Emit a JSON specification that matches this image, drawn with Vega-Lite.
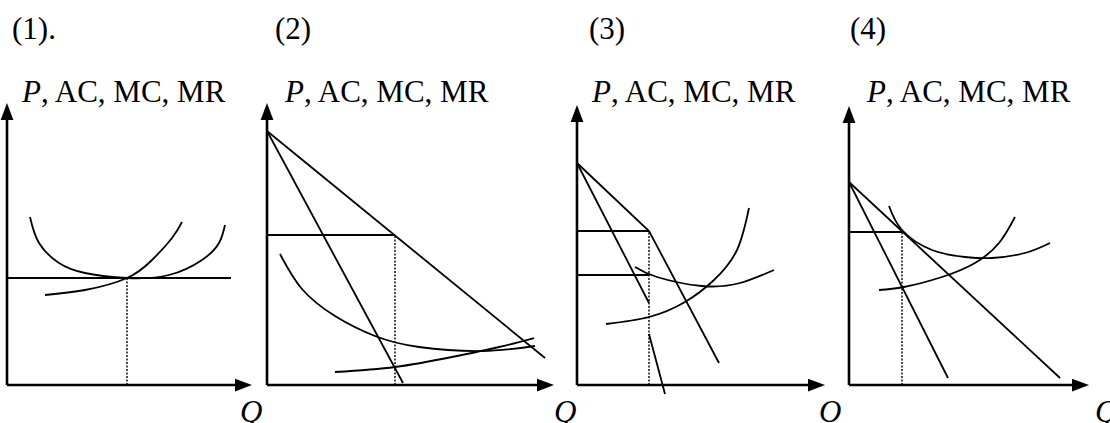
{
  "$schema": "https://vega.github.io/schema/vega-lite/v6.json",
  "background": "white",
  "padding": 0,
  "spacing": 0,
  "bounds": "flush",
  "config": {"view": {"stroke": null}, "text": {"font": "Liberation Serif, Times New Roman, serif", "fontSize": 31, "color": "black", "align": "left", "baseline": "alphabetic"}},
  "hconcat": [
    {
      "width": 260, "height": 423,
      "data": {"values": [
        {"kind": "axis", "series": "y", "q": 0, "p": 0}, {"kind": "axis", "series": "y", "q": 0, "p": 274},
        {"kind": "axis", "series": "x", "q": 0, "p": 0}, {"kind": "axis", "series": "x", "q": 237, "p": 0},
        {"kind": "arrowUp", "q": 0, "p": 273.5}, {"kind": "arrowRight", "q": 236.5, "p": 0},
        {"kind": "straight", "series": "P=MR", "q": 0, "p": 107}, {"kind": "straight", "series": "P=MR", "q": 224, "p": 107},
        {"kind": "dotted", "series": "Q*", "q": 120, "p": 0}, {"kind": "dotted", "series": "Q*", "q": 120, "p": 107},
        {"kind": "curve", "series": "AC", "q": 23, "p": 168}, {"kind": "curve", "series": "AC", "q": 32, "p": 142},
        {"kind": "curve", "series": "AC", "q": 52, "p": 122}, {"kind": "curve", "series": "AC", "q": 78, "p": 112},
        {"kind": "curve", "series": "AC", "q": 120, "p": 107}, {"kind": "curve", "series": "AC", "q": 162, "p": 110},
        {"kind": "curve", "series": "AC", "q": 195, "p": 125}, {"kind": "curve", "series": "AC", "q": 212, "p": 142},
        {"kind": "curve", "series": "AC", "q": 218, "p": 160},
        {"kind": "curve", "series": "MC", "q": 38, "p": 90}, {"kind": "curve", "series": "MC", "q": 78, "p": 95},
        {"kind": "curve", "series": "MC", "q": 120, "p": 107}, {"kind": "curve", "series": "MC", "q": 145, "p": 125},
        {"kind": "curve", "series": "MC", "q": 165, "p": 147}, {"kind": "curve", "series": "MC", "q": 175, "p": 163},
        {"kind": "title", "text": "(1).", "q": 5, "p": 346},
        {"kind": "labelItalic", "text": "P", "q": 15, "p": 283},
        {"kind": "labelRoman", "text": ", AC, MC, MR", "q": 34, "p": 283},
        {"kind": "axisName", "text": "Q", "q": 233, "p": -37}
      ]},
      "encoding": {
        "x": {"field": "q", "type": "quantitative", "scale": {"domain": [-5, 255], "nice": false, "zero": false}, "axis": null},
        "y": {"field": "p", "type": "quantitative", "scale": {"domain": [-38, 385], "nice": false, "zero": false}, "axis": null}
      },
      "layer": [
        {"transform": [{"filter": "datum.kind === 'straight'"}], "mark": {"type": "line", "color": "black", "strokeWidth": 1.8, "clip": false}, "encoding": {"detail": {"field": "series"}}},
        {"transform": [{"filter": "datum.kind === 'curve'"}], "mark": {"type": "line", "color": "black", "strokeWidth": 1.8, "interpolate": "natural", "clip": false}, "encoding": {"detail": {"field": "series"}}},
        {"transform": [{"filter": "datum.kind === 'dotted'"}], "mark": {"type": "line", "color": "black", "strokeWidth": 1.4, "strokeDash": [2, 1.5]}, "encoding": {"detail": {"field": "series"}}},
        {"transform": [{"filter": "datum.kind === 'axis'"}], "mark": {"type": "line", "color": "black", "strokeWidth": 2.6}, "encoding": {"detail": {"field": "series"}}},
        {"transform": [{"filter": "datum.kind === 'arrowUp'"}], "mark": {"type": "point", "shape": "M0,-1L0.75,1L-0.75,1Z", "filled": true, "color": "black", "opacity": 1, "size": 289}},
        {"transform": [{"filter": "datum.kind === 'arrowRight'"}], "mark": {"type": "point", "shape": "M1,0L-1,0.75L-1,-0.75Z", "filled": true, "color": "black", "opacity": 1, "size": 289}},
        {"transform": [{"filter": "datum.kind === 'title'"}], "mark": {"type": "text"}, "encoding": {"text": {"field": "text"}}},
        {"transform": [{"filter": "datum.kind === 'labelItalic'"}], "mark": {"type": "text", "fontStyle": "italic"}, "encoding": {"text": {"field": "text"}}},
        {"transform": [{"filter": "datum.kind === 'labelRoman'"}], "mark": {"type": "text"}, "encoding": {"text": {"field": "text"}}},
        {"transform": [{"filter": "datum.kind === 'axisName'"}], "mark": {"type": "text", "fontStyle": "italic"}, "encoding": {"text": {"field": "text"}}}
      ]
    },
    {
      "width": 310, "height": 423,
      "data": {"values": [
        {"kind": "axis", "series": "y", "q": 0, "p": 0}, {"kind": "axis", "series": "y", "q": 0, "p": 274},
        {"kind": "axis", "series": "x", "q": 0, "p": 0}, {"kind": "axis", "series": "x", "q": 279, "p": 0},
        {"kind": "arrowUp", "q": 0, "p": 273.5}, {"kind": "arrowRight", "q": 278.5, "p": 0},
        {"kind": "straight", "series": "D", "q": 0, "p": 254}, {"kind": "straight", "series": "D", "q": 278, "p": 27},
        {"kind": "straight", "series": "MR", "q": 0, "p": 254}, {"kind": "straight", "series": "MR", "q": 136, "p": 2},
        {"kind": "straight", "series": "P", "q": 0, "p": 150}, {"kind": "straight", "series": "P", "q": 128, "p": 150},
        {"kind": "dotted", "series": "Q*", "q": 128, "p": 0}, {"kind": "dotted", "series": "Q*", "q": 128, "p": 150},
        {"kind": "curve", "series": "AC", "q": 13, "p": 131}, {"kind": "curve", "series": "AC", "q": 35, "p": 96},
        {"kind": "curve", "series": "AC", "q": 68, "p": 69}, {"kind": "curve", "series": "AC", "q": 108, "p": 49},
        {"kind": "curve", "series": "AC", "q": 152, "p": 38}, {"kind": "curve", "series": "AC", "q": 215, "p": 34},
        {"kind": "curve", "series": "AC", "q": 268, "p": 39},
        {"kind": "curve", "series": "MC", "q": 68, "p": 13}, {"kind": "curve", "series": "MC", "q": 128, "p": 18},
        {"kind": "curve", "series": "MC", "q": 185, "p": 28}, {"kind": "curve", "series": "MC", "q": 232, "p": 38},
        {"kind": "curve", "series": "MC", "q": 267, "p": 47},
        {"kind": "title", "text": "(2)", "q": 8, "p": 346},
        {"kind": "labelItalic", "text": "P", "q": 18, "p": 283},
        {"kind": "labelRoman", "text": ", AC, MC, MR", "q": 37, "p": 283},
        {"kind": "axisName", "text": "Q", "q": 287, "p": -37}
      ]},
      "encoding": {
        "x": {"field": "q", "type": "quantitative", "scale": {"domain": [-5, 305], "nice": false, "zero": false}, "axis": null},
        "y": {"field": "p", "type": "quantitative", "scale": {"domain": [-38, 385], "nice": false, "zero": false}, "axis": null}
      },
      "layer": [
        {"transform": [{"filter": "datum.kind === 'straight'"}], "mark": {"type": "line", "color": "black", "strokeWidth": 1.8, "clip": false}, "encoding": {"detail": {"field": "series"}}},
        {"transform": [{"filter": "datum.kind === 'curve'"}], "mark": {"type": "line", "color": "black", "strokeWidth": 1.8, "interpolate": "natural", "clip": false}, "encoding": {"detail": {"field": "series"}}},
        {"transform": [{"filter": "datum.kind === 'dotted'"}], "mark": {"type": "line", "color": "black", "strokeWidth": 1.4, "strokeDash": [2, 1.5]}, "encoding": {"detail": {"field": "series"}}},
        {"transform": [{"filter": "datum.kind === 'axis'"}], "mark": {"type": "line", "color": "black", "strokeWidth": 2.6}, "encoding": {"detail": {"field": "series"}}},
        {"transform": [{"filter": "datum.kind === 'arrowUp'"}], "mark": {"type": "point", "shape": "M0,-1L0.75,1L-0.75,1Z", "filled": true, "color": "black", "opacity": 1, "size": 289}},
        {"transform": [{"filter": "datum.kind === 'arrowRight'"}], "mark": {"type": "point", "shape": "M1,0L-1,0.75L-1,-0.75Z", "filled": true, "color": "black", "opacity": 1, "size": 289}},
        {"transform": [{"filter": "datum.kind === 'title'"}], "mark": {"type": "text"}, "encoding": {"text": {"field": "text"}}},
        {"transform": [{"filter": "datum.kind === 'labelItalic'"}], "mark": {"type": "text", "fontStyle": "italic"}, "encoding": {"text": {"field": "text"}}},
        {"transform": [{"filter": "datum.kind === 'labelRoman'"}], "mark": {"type": "text"}, "encoding": {"text": {"field": "text"}}},
        {"transform": [{"filter": "datum.kind === 'axisName'"}], "mark": {"type": "text", "fontStyle": "italic"}, "encoding": {"text": {"field": "text"}}}
      ]
    },
    {
      "width": 272, "height": 423,
      "data": {"values": [
        {"kind": "axis", "series": "y", "q": 0, "p": 0}, {"kind": "axis", "series": "y", "q": 0, "p": 272},
        {"kind": "axis", "series": "x", "q": 0, "p": 0}, {"kind": "axis", "series": "x", "q": 240, "p": 0},
        {"kind": "arrowUp", "q": 0, "p": 271.5}, {"kind": "arrowRight", "q": 239.5, "p": 0},
        {"kind": "straight", "series": "D", "q": 0, "p": 222}, {"kind": "straight", "series": "D", "q": 72, "p": 154},
        {"kind": "straight", "series": "D", "q": 142, "p": 22},
        {"kind": "straight", "series": "MR upper", "q": 0, "p": 222}, {"kind": "straight", "series": "MR upper", "q": 72, "p": 82},
        {"kind": "straight", "series": "MR lower", "q": 72, "p": 51}, {"kind": "straight", "series": "MR lower", "q": 88, "p": -9},
        {"kind": "straight", "series": "P1", "q": 0, "p": 154}, {"kind": "straight", "series": "P1", "q": 72, "p": 154},
        {"kind": "straight", "series": "P2", "q": 0, "p": 110}, {"kind": "straight", "series": "P2", "q": 72, "p": 110},
        {"kind": "dotted", "series": "Q*", "q": 72, "p": 0}, {"kind": "dotted", "series": "Q*", "q": 72, "p": 154},
        {"kind": "curve", "series": "AC", "q": 58, "p": 118}, {"kind": "curve", "series": "AC", "q": 80, "p": 108},
        {"kind": "curve", "series": "AC", "q": 125, "p": 99}, {"kind": "curve", "series": "AC", "q": 163, "p": 102},
        {"kind": "curve", "series": "AC", "q": 197, "p": 115},
        {"kind": "curve", "series": "MC", "q": 29, "p": 61}, {"kind": "curve", "series": "MC", "q": 72, "p": 68},
        {"kind": "curve", "series": "MC", "q": 108, "p": 83}, {"kind": "curve", "series": "MC", "q": 137, "p": 105},
        {"kind": "curve", "series": "MC", "q": 160, "p": 135}, {"kind": "curve", "series": "MC", "q": 172, "p": 177},
        {"kind": "title", "text": "(3)", "q": 12, "p": 346},
        {"kind": "labelItalic", "text": "P", "q": 15, "p": 283},
        {"kind": "labelRoman", "text": ", AC, MC, MR", "q": 34, "p": 283},
        {"kind": "axisName", "text": "O", "q": 242, "p": -37}
      ]},
      "encoding": {
        "x": {"field": "q", "type": "quantitative", "scale": {"domain": [-5, 267], "nice": false, "zero": false}, "axis": null},
        "y": {"field": "p", "type": "quantitative", "scale": {"domain": [-38, 385], "nice": false, "zero": false}, "axis": null}
      },
      "layer": [
        {"transform": [{"filter": "datum.kind === 'straight'"}], "mark": {"type": "line", "color": "black", "strokeWidth": 1.8, "clip": false}, "encoding": {"detail": {"field": "series"}}},
        {"transform": [{"filter": "datum.kind === 'curve'"}], "mark": {"type": "line", "color": "black", "strokeWidth": 1.8, "interpolate": "natural", "clip": false}, "encoding": {"detail": {"field": "series"}}},
        {"transform": [{"filter": "datum.kind === 'dotted'"}], "mark": {"type": "line", "color": "black", "strokeWidth": 1.4, "strokeDash": [2, 1.5]}, "encoding": {"detail": {"field": "series"}}},
        {"transform": [{"filter": "datum.kind === 'axis'"}], "mark": {"type": "line", "color": "black", "strokeWidth": 2.6}, "encoding": {"detail": {"field": "series"}}},
        {"transform": [{"filter": "datum.kind === 'arrowUp'"}], "mark": {"type": "point", "shape": "M0,-1L0.75,1L-0.75,1Z", "filled": true, "color": "black", "opacity": 1, "size": 289}},
        {"transform": [{"filter": "datum.kind === 'arrowRight'"}], "mark": {"type": "point", "shape": "M1,0L-1,0.75L-1,-0.75Z", "filled": true, "color": "black", "opacity": 1, "size": 289}},
        {"transform": [{"filter": "datum.kind === 'title'"}], "mark": {"type": "text"}, "encoding": {"text": {"field": "text"}}},
        {"transform": [{"filter": "datum.kind === 'labelItalic'"}], "mark": {"type": "text", "fontStyle": "italic"}, "encoding": {"text": {"field": "text"}}},
        {"transform": [{"filter": "datum.kind === 'labelRoman'"}], "mark": {"type": "text"}, "encoding": {"text": {"field": "text"}}},
        {"transform": [{"filter": "datum.kind === 'axisName'"}], "mark": {"type": "text", "fontStyle": "italic"}, "encoding": {"text": {"field": "text"}}}
      ]
    },
    {
      "width": 268, "height": 423,
      "data": {"values": [
        {"kind": "axis", "series": "y", "q": 0, "p": 0}, {"kind": "axis", "series": "y", "q": 0, "p": 271},
        {"kind": "axis", "series": "x", "q": 0, "p": 0}, {"kind": "axis", "series": "x", "q": 232, "p": 0},
        {"kind": "arrowUp", "q": 0, "p": 270.5}, {"kind": "arrowRight", "q": 231.5, "p": 0},
        {"kind": "straight", "series": "D", "q": 0, "p": 203}, {"kind": "straight", "series": "D", "q": 211, "p": 7},
        {"kind": "straight", "series": "MR", "q": 0, "p": 203}, {"kind": "straight", "series": "MR", "q": 99, "p": 7},
        {"kind": "straight", "series": "P", "q": 0, "p": 153}, {"kind": "straight", "series": "P", "q": 53, "p": 153},
        {"kind": "dotted", "series": "Q*", "q": 53, "p": 0}, {"kind": "dotted", "series": "Q*", "q": 53, "p": 153},
        {"kind": "curve", "series": "AC", "q": 40, "p": 179}, {"kind": "curve", "series": "AC", "q": 53, "p": 155},
        {"kind": "curve", "series": "AC", "q": 83, "p": 135}, {"kind": "curve", "series": "AC", "q": 116, "p": 128},
        {"kind": "curve", "series": "AC", "q": 143, "p": 127}, {"kind": "curve", "series": "AC", "q": 176, "p": 132},
        {"kind": "curve", "series": "AC", "q": 201, "p": 142},
        {"kind": "curve", "series": "MC", "q": 30, "p": 95}, {"kind": "curve", "series": "MC", "q": 55, "p": 98},
        {"kind": "curve", "series": "MC", "q": 93, "p": 108}, {"kind": "curve", "series": "MC", "q": 126, "p": 122},
        {"kind": "curve", "series": "MC", "q": 150, "p": 142}, {"kind": "curve", "series": "MC", "q": 166, "p": 168},
        {"kind": "title", "text": "(4)", "q": 1, "p": 346},
        {"kind": "labelItalic", "text": "P", "q": 18, "p": 283},
        {"kind": "labelRoman", "text": ", AC, MC, MR", "q": 37, "p": 283},
        {"kind": "axisName", "text": "Q", "q": 246, "p": -37}
      ]},
      "encoding": {
        "x": {"field": "q", "type": "quantitative", "scale": {"domain": [-5, 263], "nice": false, "zero": false}, "axis": null},
        "y": {"field": "p", "type": "quantitative", "scale": {"domain": [-38, 385], "nice": false, "zero": false}, "axis": null}
      },
      "layer": [
        {"transform": [{"filter": "datum.kind === 'straight'"}], "mark": {"type": "line", "color": "black", "strokeWidth": 1.8, "clip": false}, "encoding": {"detail": {"field": "series"}}},
        {"transform": [{"filter": "datum.kind === 'curve'"}], "mark": {"type": "line", "color": "black", "strokeWidth": 1.8, "interpolate": "natural", "clip": false}, "encoding": {"detail": {"field": "series"}}},
        {"transform": [{"filter": "datum.kind === 'dotted'"}], "mark": {"type": "line", "color": "black", "strokeWidth": 1.4, "strokeDash": [2, 1.5]}, "encoding": {"detail": {"field": "series"}}},
        {"transform": [{"filter": "datum.kind === 'axis'"}], "mark": {"type": "line", "color": "black", "strokeWidth": 2.6}, "encoding": {"detail": {"field": "series"}}},
        {"transform": [{"filter": "datum.kind === 'arrowUp'"}], "mark": {"type": "point", "shape": "M0,-1L0.75,1L-0.75,1Z", "filled": true, "color": "black", "opacity": 1, "size": 289}},
        {"transform": [{"filter": "datum.kind === 'arrowRight'"}], "mark": {"type": "point", "shape": "M1,0L-1,0.75L-1,-0.75Z", "filled": true, "color": "black", "opacity": 1, "size": 289}},
        {"transform": [{"filter": "datum.kind === 'title'"}], "mark": {"type": "text"}, "encoding": {"text": {"field": "text"}}},
        {"transform": [{"filter": "datum.kind === 'labelItalic'"}], "mark": {"type": "text", "fontStyle": "italic"}, "encoding": {"text": {"field": "text"}}},
        {"transform": [{"filter": "datum.kind === 'labelRoman'"}], "mark": {"type": "text"}, "encoding": {"text": {"field": "text"}}},
        {"transform": [{"filter": "datum.kind === 'axisName'"}], "mark": {"type": "text", "fontStyle": "italic"}, "encoding": {"text": {"field": "text"}}}
      ]
    }
  ]
}
